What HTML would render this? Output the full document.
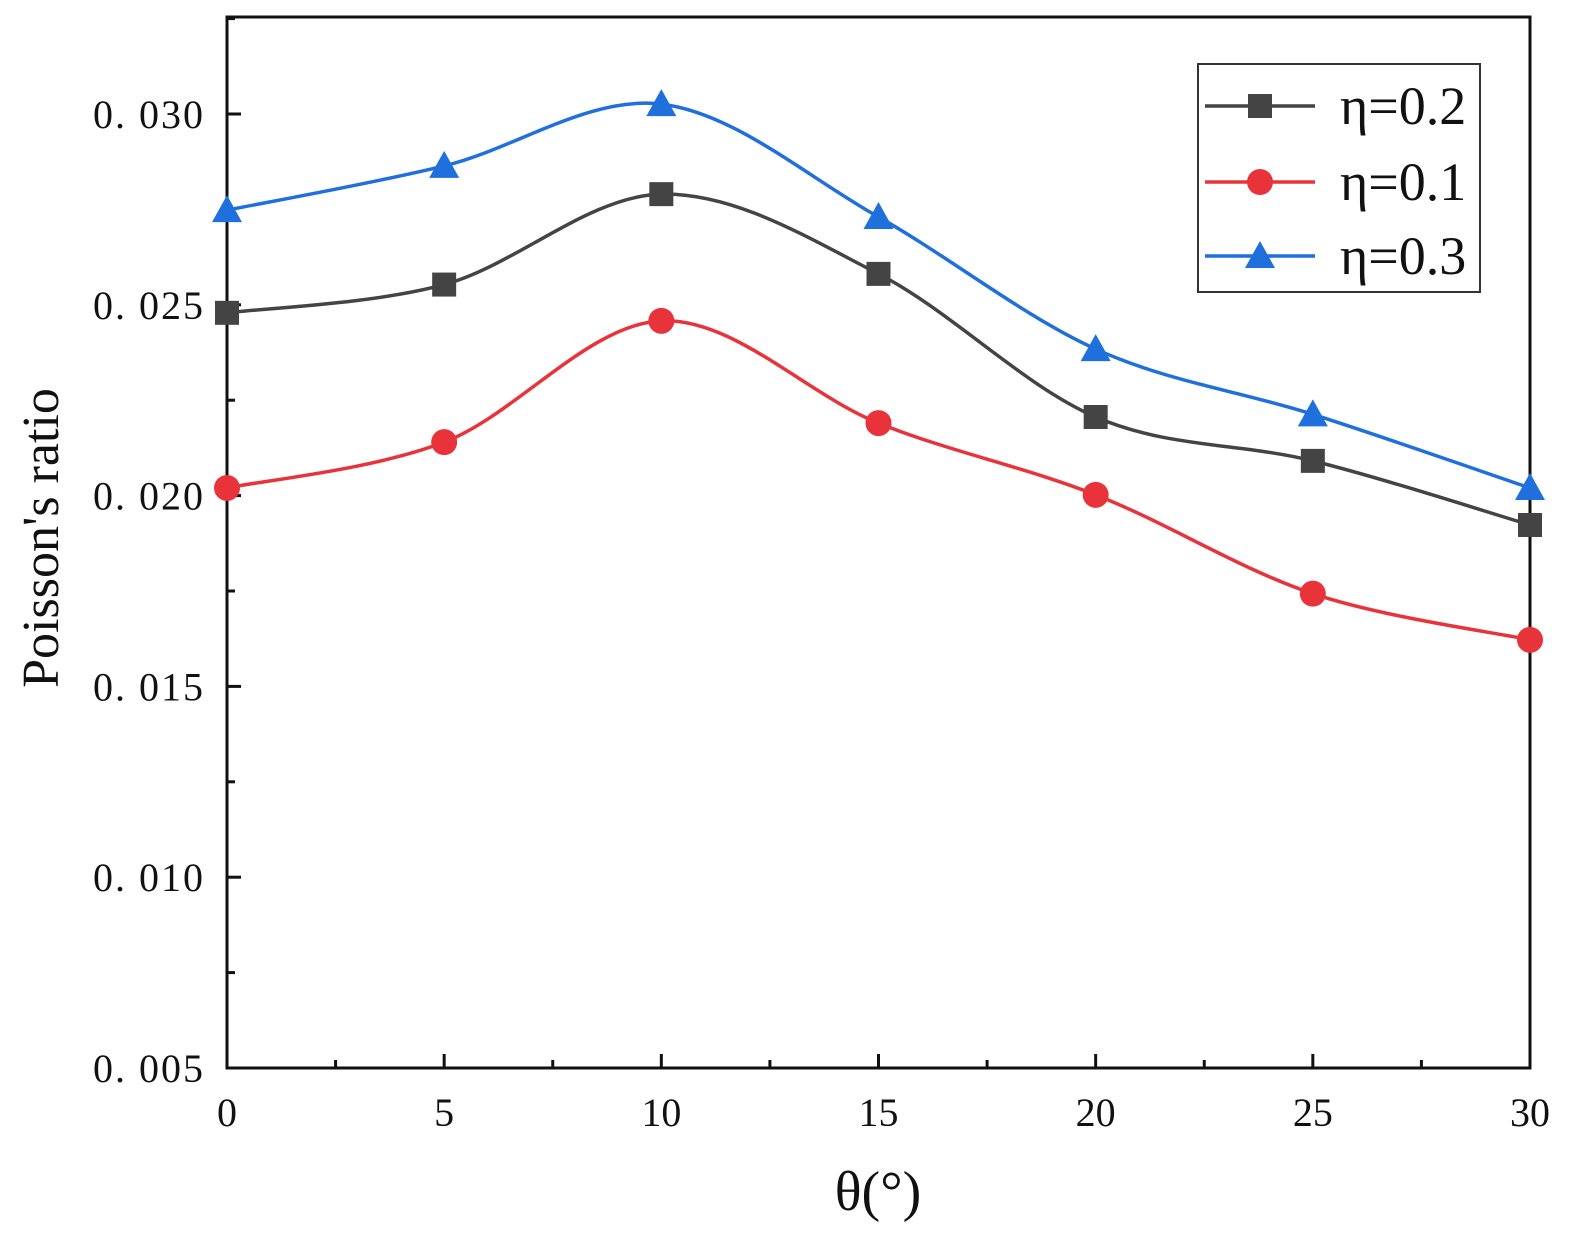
<!DOCTYPE html>
<html><head><meta charset="utf-8"><style>
html,body{margin:0;padding:0;background:#fff;}
svg text{font-family:"Liberation Serif","Noto Serif CJK SC",serif;fill:#111;}
</style></head><body>
<svg id="chart" width="1590" height="1255" viewBox="0 0 1590 1255" xmlns="http://www.w3.org/2000/svg">
<g id="axes"></g>
<g id="series"></g>
<g id="legend"></g>
</svg>
<script>
const categories=[0,5,10,15,20,25,30];
const seriesEta02=[0.02479,0.02553,0.02790,0.02581,0.02206,0.02091,0.01923];
const seriesEta01=[0.02020,0.02140,0.02458,0.02190,0.02002,0.01743,0.01622];
const seriesEta03=[0.02748,0.02864,0.03026,0.02730,0.02384,0.02213,0.02020];
const xTickLabels=["0","5","10","15","20","25","30"];
const yTickValues=[0.005,0.010,0.015,0.020,0.025,0.030];
const yTickLabels=["0. 005","0. 010","0. 015","0. 020","0. 025","0. 030"];
const legendLabels=["η=0.2","η=0.1","η=0.3"];

const NS="http://www.w3.org/2000/svg";
const L=227,R=1530,T=17,B=1068;
const xMin=0,xMax=30,yMin=0.005,yMax=0.030+97/38160;
const xs=v=>L+(v-xMin)/(xMax-xMin)*(R-L);
const ys=v=>B-(v-yMin)/(yMax-yMin)*(B-T);
function mk(tag,attrs,parent){const e=document.createElementNS(NS,tag);for(const k in attrs)e.setAttribute(k,attrs[k]);parent.appendChild(e);return e;}
const axes=document.getElementById('axes'),ser=document.getElementById('series'),leg=document.getElementById('legend');

let f=mk('rect',{x:L,y:T,width:R-L,height:B-T,fill:'none',stroke:'#111','stroke-width':3},axes);

for(let i=0;i<=12;i++){const v=i*2.5,x=xs(v),maj=i%2==0;
 let t=mk('line',{x1:x,x2:x,y1:B,y2:B-(maj?14:8),stroke:'#111','stroke-width':3},axes);
 }
xTickLabels.forEach((s,i)=>{let t=mk('text',{x:xs(categories[i]),y:B+58,'text-anchor':'middle','font-size':40},axes);t.textContent=s;
 });
for(let i=0;i<=11;i++){const v=0.005+i*0.0025,y=ys(v),maj=i%2==0;
 let t=mk('line',{x1:L,x2:L+(maj?14:8),y1:y,y2:y,stroke:'#111','stroke-width':3},axes);
 }
yTickValues.forEach((v,i)=>{let t=mk('text',{x:205,y:ys(v)+14,'text-anchor':'end','font-size':40,'letter-spacing':2},axes);t.textContent=yTickLabels[i];
 });
let yt=mk('text',{x:0,y:0,transform:'translate(58,538) rotate(-90)','text-anchor':'middle','font-size':52},axes);yt.textContent="Poisson's ratio";

let xt=mk('text',{x:878,y:1210,'text-anchor':'middle','font-size':56},axes);xt.textContent="θ(°)";


function pathFor(vals){const p=vals.map((v,i)=>[xs(categories[i]),ys(v)]);let d=`M${p[0][0]},${p[0][1]}`;
 for(let i=0;i<p.length-1;i++){const p0=p[i-1]||p[i],p1=p[i],p2=p[i+1],p3=p[i+2]||p2;
  const c1=[p1[0]+(p2[0]-p0[0])/6,p1[1]+(p2[1]-p0[1])/6],c2=[p2[0]-(p3[0]-p1[0])/6,p2[1]-(p3[1]-p1[1])/6];
  d+=` C${c1[0]},${c1[1]} ${c2[0]},${c2[1]} ${p2[0]},${p2[1]}`;}return d;}
function marker(shape,x,y,color,parent){
 if(shape==='square')return mk('rect',{x:x-12,y:y-12,width:24,height:24,fill:color},parent);
 if(shape==='circle')return mk('circle',{cx:x,cy:y,r:13,fill:color},parent);
 return mk('polygon',{points:`${x},${y-15} ${x+15},${y+12} ${x-15},${y+12}`,fill:color},parent);}
const defs=[[seriesEta02,'#444','square','eta-0.2'],[seriesEta01,'#e8333a','circle','eta-0.1'],[seriesEta03,'#1f6fdc','triangle','eta-0.3']];
defs.forEach(([vals,c,sh,nm])=>{
 let g=mk('g',{},ser);
 let p=mk('path',{d:pathFor(vals),fill:'none',stroke:c,'stroke-width':3.5},g);
 
 vals.forEach((v,i)=>{let m=marker(sh,xs(categories[i]),ys(v),c,g);
  });});
let lb=mk('rect',{x:1198,y:64,width:282,height:228,fill:'#fff',stroke:'#333','stroke-width':2},leg);

const ly=[106,182,256];
defs.forEach(([vals,c,sh,nm],i)=>{
 let g=mk('g',{},leg);
 mk('line',{x1:1205,x2:1315,y1:ly[i],y2:ly[i],stroke:c,'stroke-width':3.5},g);
 marker(sh,1260,ly[i],c,g);
 let t=mk('text',{x:1340,y:ly[i]+18,'font-size':54},g);t.textContent=legendLabels[i];
 });
</script>
</body></html>
